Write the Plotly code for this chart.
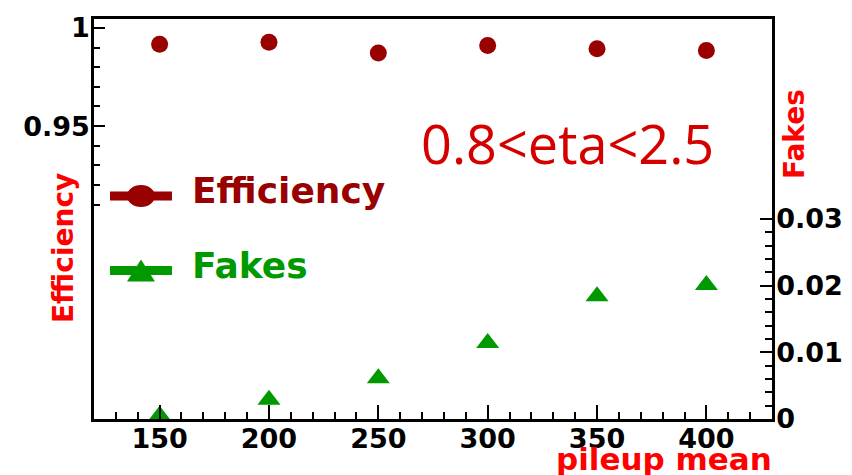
import plotly.graph_objects as go

pileup = [150, 200, 250, 300, 350, 400]
efficiency = [0.9917, 0.9927, 0.9872, 0.9910, 0.9894, 0.9885]
fakes = [0.0005, 0.0029, 0.0061, 0.0114, 0.0184, 0.0201]

x_ticks = [150, 200, 250, 300, 350, 400]
eff_ticks = [0.95, 1.0]
eff_ticktext = ["0.95", "1"]
eff_minor = [0.91, 0.92, 0.93, 0.94, 0.96, 0.97, 0.98, 0.99]
fake_ticks = [0, 0.01, 0.02, 0.03]
fake_ticktext = ["0", "0.01", "0.02", "0.03"]
fake_minor = [0.002, 0.004, 0.006, 0.008, 0.012, 0.014, 0.016, 0.018,
              0.022, 0.024, 0.026, 0.028]

EFF_C = "#990000"
FAKE_C = "#009900"
RED = "#ff0000"
FONT = "DejaVu Sans"

fig = go.Figure()
fig.add_trace(go.Scatter(x=pileup, y=efficiency, mode="markers", name="Efficiency",
                         marker=dict(symbol="circle", size=17, color=EFF_C),
                         yaxis="y", showlegend=False))
fig.add_trace(go.Scatter(x=pileup, y=fakes, mode="markers", name="Fakes",
                         marker=dict(symbol="triangle-up", size=20, color=FAKE_C),
                         yaxis="y2", showlegend=False))

tickfont = dict(family=FONT, size=27, color="black", weight="bold")

fig.update_layout(
    width=844, height=467,
    margin=dict(l=86, r=80, t=4, b=56),
    paper_bgcolor="white", plot_bgcolor="white",
    xaxis=dict(range=[120, 430], showline=True, linecolor="black", linewidth=2.5,
               mirror=True, showgrid=False, zeroline=False,
               tickvals=x_ticks, ticks="inside", ticklen=14, tickwidth=2,
               tickcolor="black", tickfont=tickfont, ticklabelstandoff=-6,
               minor=dict(dtick=10, tick0=120, ticks="inside", ticklen=7,
                          tickwidth=2, tickcolor="black", showgrid=False)),
    yaxis=dict(range=[0.801, 1.0045], showline=True, linecolor="black", linewidth=2.5,
               showgrid=False, zeroline=False,
               tickvals=eff_ticks, ticktext=eff_ticktext, ticks="inside",
               ticklen=11, tickwidth=2, tickcolor="black", tickfont=tickfont,
               ticklabelstandoff=-4,
               minor=dict(tickvals=eff_minor, ticks="inside", ticklen=6,
                          tickwidth=2, tickcolor="black", showgrid=False)),
    yaxis2=dict(range=[0, 0.06], overlaying="y", side="right", showline=True,
                linecolor="black", linewidth=2.5, showgrid=False, zeroline=False,
                tickvals=fake_ticks, ticktext=fake_ticktext, ticks="inside",
                ticklen=12, tickwidth=2, tickcolor="black", tickfont=tickfont,
                ticklabelstandoff=-4,
                minor=dict(tickvals=fake_minor, ticks="inside", ticklen=7,
                           tickwidth=2, tickcolor="black", showgrid=False)),
)

# axis titles
fig.add_annotation(text="Efficiency", xref="paper", yref="paper", x=-0.0457, y=0.4275,
                   textangle=-90, showarrow=False, xanchor="center", yanchor="middle",
                   font=dict(family=FONT, size=28, color=RED, weight="bold"))
fig.add_annotation(text="Fakes", xref="paper", yref="paper", x=1.034, y=0.7125,
                   textangle=-90, showarrow=False, xanchor="center", yanchor="middle",
                   font=dict(family=FONT, size=28, color=RED, weight="bold"))
fig.add_annotation(text="pileup mean", xref="paper", yref="paper", x=0.8407, y=-0.1007,
                   showarrow=False, xanchor="center", yanchor="middle",
                   font=dict(family=FONT, size=31, color=RED, weight="bold"))
fig.add_annotation(text="0.8<eta<2.5", xref="paper", yref="paper", x=0.699, y=0.69,
                   showarrow=False, xanchor="center", yanchor="middle",
                   font=dict(family="Open Sans", size=54, color="#d40000"))

# legend (drawn manually)
eff_ly = 0.5577
fake_ly = 0.371
fig.add_shape(type="line", xref="paper", yref="paper", x0=0.0236, x1=0.115,
              y0=eff_ly, y1=eff_ly, line=dict(color=EFF_C, width=9))
fig.add_shape(type="circle", xref="paper", yref="paper", xsizemode="pixel",
              ysizemode="pixel", xanchor=0.0693, yanchor=eff_ly,
              x0=-14, x1=14, y0=-11, y1=11, fillcolor=EFF_C, line=dict(width=0))
fig.add_shape(type="line", xref="paper", yref="paper", x0=0.0236, x1=0.115,
              y0=fake_ly, y1=fake_ly, line=dict(color=FAKE_C, width=9))
fig.add_shape(type="path", xref="paper", yref="paper", xsizemode="pixel",
              ysizemode="pixel", xanchor=0.0693, yanchor=fake_ly,
              path="M-14,-11 L14,-11 L0,11 Z", fillcolor=FAKE_C, line=dict(width=0))
fig.add_annotation(text="Efficiency", xref="paper", yref="paper", x=0.1416, y=0.5725,
                   showarrow=False, xanchor="left", yanchor="middle",
                   font=dict(family=FONT, size=36, color=EFF_C, weight="bold"))
fig.add_annotation(text="Fakes", xref="paper", yref="paper", x=0.1416, y=0.383,
                   showarrow=False, xanchor="left", yanchor="middle",
                   font=dict(family=FONT, size=36, color=FAKE_C, weight="bold"))

fig.write_html("out.html")
